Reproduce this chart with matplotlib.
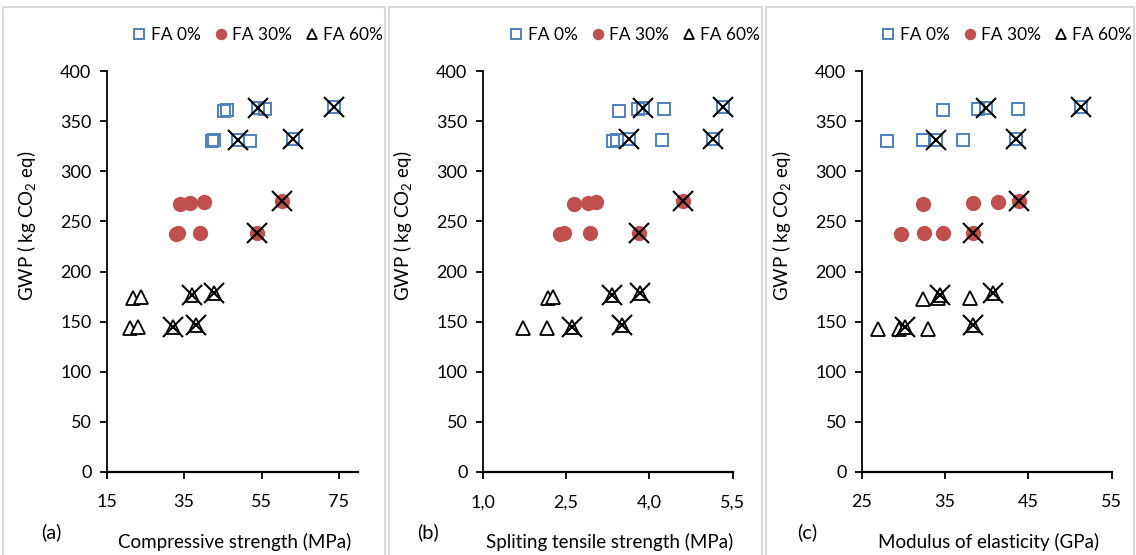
import matplotlib
matplotlib.use("Agg")
import matplotlib.pyplot as plt
from matplotlib.patches import Rectangle

plt.rcParams['font.family'] = ['Lato', 'DejaVu Sans']
plt.rcParams['mathtext.default'] = 'regular'

# ---------------- data ----------------
series_labels = ["FA 0%", "FA 30%", "FA 60%"]

# (a) compressive strength (MPa)
fa0_x_a = [45.2, 46.0, 54.2, 55.9, 73.6, 42.1, 42.7, 49.0, 52.1, 63.1]
fa0_y_a = [360, 361, 363, 362, 364, 330, 331, 331, 330, 332]
fa0_cross_a = [0, 0, 1, 0, 1, 0, 0, 1, 0, 1]
fa30_x_a = [32.9, 33.3, 39.0, 53.8, 34.0, 36.4, 40.2, 60.4]
fa30_y_a = [237, 238, 238, 238, 267, 268, 269, 270]
fa30_cross_a = [0, 0, 0, 1, 0, 0, 0, 1]
fa60_x_a = [21.7, 23.8, 37.0, 42.6, 21.0, 23.2, 32.2, 38.1]
fa60_y_a = [174, 175, 177, 179, 144, 145, 145, 147]
fa60_cross_a = [0, 0, 1, 1, 0, 0, 1, 1]

# (b) splitting tensile strength (MPa)
fa0_x_b = [3.45, 3.79, 3.88, 4.27, 5.33, 3.34, 3.41, 3.64, 4.22, 5.14]
fa0_y_b = [360, 362, 363, 362, 364, 330, 331, 332, 331, 332]
fa0_cross_b = [0, 0, 1, 0, 1, 0, 0, 1, 0, 1]
fa30_x_b = [2.40, 2.46, 2.93, 3.82, 2.64, 2.90, 3.04, 4.61]
fa30_y_b = [237, 238, 238, 238, 267, 268, 269, 270]
fa30_cross_b = [0, 0, 0, 1, 0, 0, 0, 1]
fa60_x_b = [2.18, 2.27, 3.32, 3.84, 1.73, 2.15, 2.60, 3.50]
fa60_y_b = [174, 175, 177, 179, 144, 144, 145, 147]
fa60_cross_b = [0, 0, 1, 1, 0, 0, 1, 1]

# (c) modulus of elasticity (GPa)
fa0_x_c = [34.7, 39.0, 39.9, 43.8, 51.3, 28.0, 32.4, 33.9, 37.1, 43.5]
fa0_y_c = [361, 362, 363, 362, 364, 330, 331, 331, 331, 332]
fa0_cross_c = [0, 0, 1, 0, 1, 0, 0, 1, 0, 1]
fa30_x_c = [29.7, 32.5, 34.8, 38.3, 32.4, 38.3, 41.4, 43.9]
fa30_y_c = [237, 238, 238, 238, 267, 268, 269, 270]
fa30_cross_c = [0, 0, 0, 1, 0, 0, 0, 1]
fa60_x_c = [32.3, 34.1, 34.4, 38.0, 40.7, 27.0, 29.5, 30.2, 33.0, 38.3]
fa60_y_c = [173, 174, 177, 174, 179, 143, 143, 145, 143, 147]
fa60_cross_c = [0, 0, 1, 0, 1, 0, 0, 1, 0, 1]

x_labels = ["Compressive strength (MPa)", "Spliting tensile strength (MPa)",
            "Modulus of elasticity (GPa)"]
panel_tags = ["(a)", "(b)", "(c)"]
x_ticks_a = [15, 35, 55, 75]
x_ticks_b = [1.0, 2.5, 4.0, 5.5]
x_ticks_c = [25, 35, 45, 55]
x_ticklabels_a = ["15", "35", "55", "75"]
x_ticklabels_b = ["1,0", "2,5", "4,0", "5,5"]
x_ticklabels_c = ["25", "35", "45", "55"]
y_ticks = [0, 50, 100, 150, 200, 250, 300, 350, 400]
y_label = "GWP ( kg CO$_2$ eq)"

# ---------------- layout ----------------
W, H = 1136, 555
fig = plt.figure(figsize=(W / 100, H / 100), dpi=100)

blue = "#4F81BD"
red = "#C0504D"

panels = [
    dict(xs=[fa0_x_a, fa30_x_a, fa60_x_a], ys=[fa0_y_a, fa30_y_a, fa60_y_a],
         cr=[fa0_cross_a, fa30_cross_a, fa60_cross_a], xlim=(15, 80),
         ticks=x_ticks_a, tl=x_ticklabels_a, left=106.7, width=251.6,
         box=(3, 385)),
    dict(xs=[fa0_x_b, fa30_x_b, fa60_x_b], ys=[fa0_y_b, fa30_y_b, fa60_y_b],
         cr=[fa0_cross_b, fa30_cross_b, fa60_cross_b], xlim=(1.0, 5.5),
         ticks=x_ticks_b, tl=x_ticklabels_b, left=482.7, width=250,
         box=(389, 762)),
    dict(xs=[fa0_x_c, fa30_x_c, fa60_x_c], ys=[fa0_y_c, fa30_y_c, fa60_y_c],
         cr=[fa0_cross_c, fa30_cross_c, fa60_cross_c], xlim=(25, 55),
         ticks=x_ticks_c, tl=x_ticklabels_c, left=861.7, width=250,
         box=(766, 1134)),
]

ax_top_px = 71     # y pixel of 400
ax_bot_px = 472    # y pixel of 0
fs_tick = 13
fs_lab = 13.5
fs_leg = 12.5

for i, p in enumerate(panels):
    # panel frame
    x0, x1 = p["box"]
    fig.add_artist(Rectangle((x0 / W, -0.02), (x1 - x0) / W, (H - 7) / H + 0.02,
                             transform=fig.transFigure, fill=False,
                             ec="#d9d9d9", lw=1.5))
    ax = fig.add_axes([p["left"] / W, (H - ax_bot_px) / H, p["width"] / W,
                       (ax_bot_px - ax_top_px) / H])
    ax.set_xlim(*p["xlim"])
    ax.set_ylim(0, 400)
    for s in ["top", "right"]:
        ax.spines[s].set_visible(False)
    ax.spines["left"].set_linewidth(1.3)
    ax.spines["bottom"].set_linewidth(1.6)
    ax.set_xticks(p["ticks"])
    ax.set_xticklabels(p["tl"])
    ax.set_yticks(y_ticks)
    ax.tick_params(axis="both", direction="out", length=5, width=1.3,
                   labelsize=fs_tick, colors="black")
    ax.tick_params(axis="x", pad=11)
    ax.tick_params(axis="y", pad=6)

    xs, ys, cr = p["xs"], p["ys"], p["cr"]
    h0, = ax.plot(xs[0], ys[0], ls="none", marker="s", ms=9.3, mfc="none",
                  mec=blue, mew=1.4, clip_on=False)
    h1, = ax.plot(xs[1], ys[1], ls="none", marker="o", ms=11, mfc=red,
                  mec=red, mew=0, clip_on=False)
    h2, = ax.plot(xs[2], ys[2], ls="none", marker="^", ms=9.5, mfc="white",
                  mec="black", mew=1.3, clip_on=False)
    for sx, sy, sc in zip(xs, ys, cr):
        cx = [a for a, c in zip(sx, sc) if c]
        cy = [b for b, c in zip(sy, sc) if c]
        ax.plot(cx, cy, ls="none", marker="x", ms=14, mec="black", mew=1.5,
                clip_on=False)

    right_px = x1 - 2
    fig.legend([h0, h1, h2], series_labels, ncol=3, frameon=False,
               loc="center right",
               bbox_to_anchor=(right_px / W, (H - 35) / H),
               bbox_transform=fig.transFigure, fontsize=fs_leg,
               handlelength=0.7, handletextpad=0.3, columnspacing=0.8,
               markerscale=0.75, borderpad=0, borderaxespad=0)

    # y axis label
    fig.text((p["left"] - 80) / W, (H - 226) / H, y_label, rotation=90,
             ha="center", va="center", fontsize=fs_lab)
    # x axis label and panel tag
    cx_px = p["left"] + p["width"] / 2 + 2
    fig.text(cx_px / W, (H - 542) / H, x_labels[i], ha="center", va="center",
             fontsize=fs_lab)
    fig.text((p["left"] - 55) / W, (H - 532) / H, panel_tags[i], ha="center",
             va="center", fontsize=fs_lab + 1)

fig.savefig("out.png", dpi=100)
